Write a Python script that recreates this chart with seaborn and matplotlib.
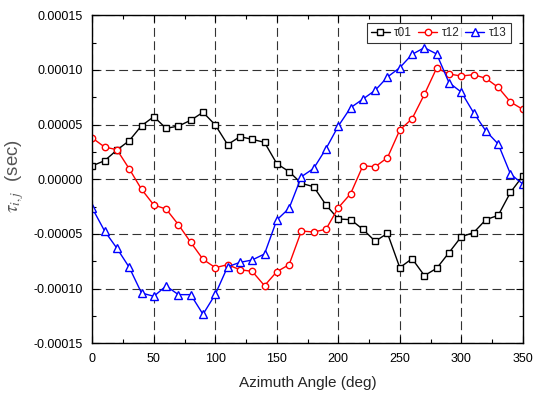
import numpy as np
import pandas as pd
import matplotlib
matplotlib.use("Agg")
import matplotlib.pyplot as plt
import seaborn as sns
from matplotlib.ticker import MultipleLocator, FormatStrFormatter

sns.set_theme(style="white")
plt.rcParams['font.family'] = ['Liberation Sans', 'DejaVu Sans']
plt.rcParams['mathtext.fontset'] = 'stix'

angles = list(range(0, 360, 10))

tau01 = [1.24e-5, 1.7e-5, 2.68e-5, 3.53e-5, 4.9e-5, 5.73e-5, 4.66e-5, 4.87e-5, 5.4e-5, 6.13e-5,
         4.97e-5, 3.17e-5, 3.9e-5, 3.66e-5, 3.38e-5, 1.43e-5, 7.0e-6, -3.7e-6, -6.8e-6, -2.35e-5,
         -3.63e-5, -3.69e-5, -4.57e-5, -5.67e-5, -4.94e-5, -8.08e-5, -7.26e-5, -8.81e-5, -8.14e-5, -6.71e-5,
         -5.25e-5, -4.88e-5, -3.69e-5, -3.3e-5, -1.19e-5, 3.0e-6]

tau12 = [3.78e-5, 2.95e-5, 2.71e-5, 9.6e-6, -9.1e-6, -2.35e-5, -2.72e-5, -4.15e-5, -5.76e-5, -7.32e-5,
         -8.08e-5, -7.81e-5, -8.27e-5, -8.42e-5, -9.73e-5, -8.45e-5, -7.81e-5, -4.73e-5, -4.82e-5, -4.57e-5,
         -2.6e-5, -1.32e-5, 1.24e-5, 1.15e-5, 1.98e-5, 4.51e-5, 5.54e-5, 7.77e-5, 1.018e-4, 9.63e-5,
         9.45e-5, 9.57e-5, 9.24e-5, 8.41e-5, 7.07e-5, 6.4e-5]

tau13 = [-2.65e-5, -4.73e-5, -6.31e-5, -8.05e-5, -1.04e-4, -1.07e-4, -9.76e-5, -1.055e-4, -1.055e-4, -1.235e-4,
         -1.052e-4, -8.0e-5, -7.6e-5, -7.38e-5, -6.83e-5, -3.72e-5, -2.65e-5, 2.4e-6, 1.0e-5, 2.8e-5,
         4.87e-5, 6.55e-5, 7.34e-5, 8.14e-5, 9.36e-5, 1.021e-4, 1.143e-4, 1.204e-4, 1.146e-4, 8.84e-5,
         7.98e-5, 6.09e-5, 4.42e-5, 3.23e-5, 4.8e-6, -4.3e-6]

series_names = ["τ01", "τ12", "τ13"]
series_vals = [tau01, tau12, tau13]
colors = ["black", "red", "blue"]
markers = ["s", "o", "^"]
msizes = [4.3, 4.6, 5.3]

fig = plt.figure(figsize=(5.44, 3.93), dpi=100)
ax = fig.add_axes([0.1697, 0.1265, 0.7913, 0.8345])

for name, vals, c, m, ms in zip(series_names, series_vals, colors, markers, msizes):
    df = pd.DataFrame({"angle": angles, "tau": vals})
    sns.lineplot(data=df, x="angle", y="tau", ax=ax, color=c, marker=m,
                 markersize=ms, markerfacecolor="white",
                 markeredgecolor=c, markeredgewidth=1.0, linewidth=1.0, label=name)

ax.set_xlim(0, 350)
ax.set_ylim(-0.00015, 0.00015)
ax.xaxis.set_major_locator(MultipleLocator(50))
ax.xaxis.set_minor_locator(MultipleLocator(25))
ax.yaxis.set_major_locator(MultipleLocator(0.00005))
ax.yaxis.set_minor_locator(MultipleLocator(0.000025))
ax.yaxis.set_major_formatter(FormatStrFormatter('%.5f'))

ax.tick_params(which='both', direction='in', top=True, right=True, bottom=True, left=True,
               labelsize=9, colors='black')
ax.tick_params(axis='x', which='major', pad=7)
ax.tick_params(axis='y', which='major', pad=7)
ax.tick_params(which='major', length=5, width=0.8)
ax.tick_params(which='minor', length=3, width=0.8)

ax.grid(True, which='major', color='#333333', linestyle=(0, (8, 4)), linewidth=0.8)
for s in ax.spines.values():
    s.set_color('black')
    s.set_linewidth(1.0)

ax.set_xlabel("Azimuth Angle (deg)", fontsize=11, labelpad=8)
ax.set_ylabel(r"$\tau_{i,j}$  (sec)", fontsize=13.5, color='#555555')
ax.yaxis.set_label_coords(-0.155, 0.51)

leg = ax.legend(loc='upper right', ncol=3, fontsize=8.5, frameon=True, fancybox=False,
                edgecolor='black', handlelength=1.6, handletextpad=0.4, columnspacing=0.5,
                borderpad=0.35, bbox_to_anchor=(0.986, 0.994))
leg.get_frame().set_linewidth(0.8)

fig.savefig("out.png", dpi=100)
